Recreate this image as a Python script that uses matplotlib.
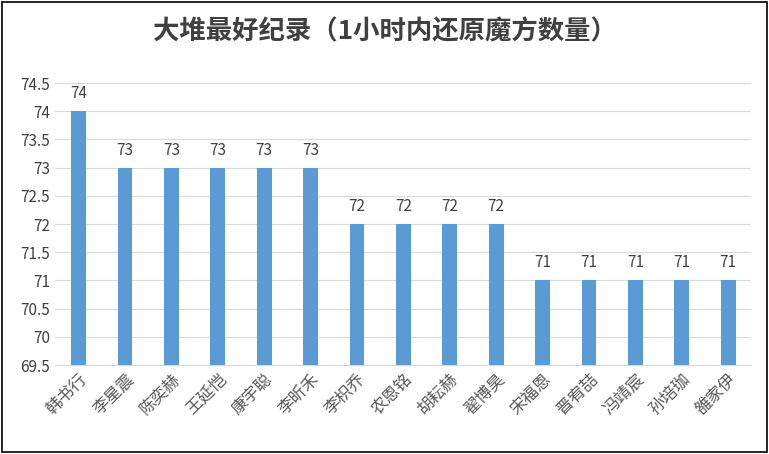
import matplotlib
matplotlib.use('Agg')
import matplotlib.pyplot as plt
from matplotlib.patches import Rectangle

plt.rcParams['font.family'] = ['Noto Sans CJK SC', 'DejaVu Sans']

names = ['韩书行','李星震','陈奕赫','王延恺','康宇聪','李昕禾','李枳乔','农恩铭',
         '胡耘赫','翟博昊','宋福恩','晋宥喆','冯靖宸','孙培珈','雒家伊']
values = [74,73,73,73,73,73,72,72,72,72,71,71,71,71,71]
yticks = [69.5,70,70.5,71,71.5,72,72.5,73,73.5,74,74.5]

fig = plt.figure(figsize=(7.69,4.54), dpi=100)
ax = fig.add_axes([0.072, 0.196, 0.905, 0.621])
x = range(len(names))
ax.bar(x, [v-69.5 for v in values], bottom=69.5, width=0.32, color='#5B9BD5', zorder=3)
for i, v in zip(x, values):
    ax.text(i, v+0.16, f'{v}', ha='center', va='bottom', fontsize=11, color='#404040')
ax.set_ylim(69.5, 74.5)
ax.set_xlim(-0.5, len(names)-0.5)
ax.set_yticks(yticks)
ax.set_yticklabels([f'{t:g}' for t in yticks], fontsize=11, color='#404040')
ax.set_xticks(list(x))
ax.set_xticklabels(names, rotation=45, ha='right', rotation_mode='anchor', fontsize=12, color='#595959')
ax.grid(axis='y', color='#D9D9D9', lw=0.8, zorder=0)
for s in ['top','right','left']:
    ax.spines[s].set_visible(False)
ax.spines['bottom'].set_color('#D9D9D9')
ax.tick_params(length=0, pad=4)
fig.text(0.5, 0.93, '大堆最好纪录（1小时内还原魔方数量）', ha='center', va='center',
         fontsize=19, fontweight='bold', color='#404040')
fig.patches.append(Rectangle((0.003,0.005),0.994,0.99, transform=fig.transFigure,
                             fill=False, edgecolor='black', lw=1.2))
fig.savefig('out.png', dpi=100)
